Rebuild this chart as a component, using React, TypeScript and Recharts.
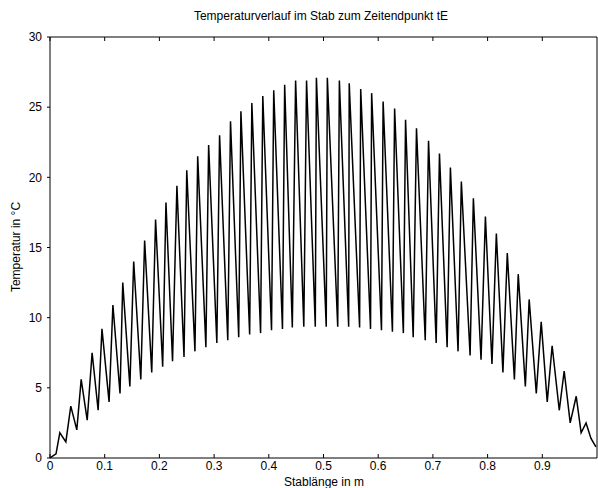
import { LineChart, Line, XAxis, YAxis } from 'recharts'

// Stablänge (m) of each sample
const stabX = [
  0, 0.011, 0.018, 0.029, 0.038, 0.049, 0.057, 0.068, 0.077, 0.088,
  0.095, 0.108, 0.115, 0.128, 0.133, 0.146, 0.153, 0.166, 0.173, 0.186,
  0.193, 0.206, 0.212, 0.224, 0.232, 0.245, 0.25, 0.265, 0.27, 0.285,
  0.29, 0.305, 0.31, 0.325, 0.33, 0.345, 0.349, 0.365, 0.369, 0.385,
  0.389, 0.405, 0.409, 0.425, 0.429, 0.443, 0.449, 0.464, 0.469, 0.485,
  0.487, 0.505, 0.507, 0.526, 0.529, 0.546, 0.547, 0.566, 0.568, 0.586,
  0.588, 0.606, 0.609, 0.626, 0.63, 0.646, 0.65, 0.664, 0.67, 0.686,
  0.692, 0.706, 0.712, 0.726, 0.732, 0.746, 0.752, 0.768, 0.774, 0.788,
  0.796, 0.808, 0.816, 0.828, 0.836, 0.849, 0.856, 0.869, 0.876, 0.889,
  0.898, 0.909, 0.918, 0.931, 0.94, 0.951, 0.962, 0.971, 0.98, 0.989,
  0.998,
]

// Temperatur (°C) at each sample
const temperatur = [
  0, 0.3, 1.8, 1.15, 3.7, 2.0, 5.6, 2.7, 7.5, 3.4,
  9.2, 4.0, 10.9, 4.6, 12.5, 5.1, 14.0, 5.6, 15.5, 6.1,
  17.0, 6.5, 18.2, 6.9, 19.4, 7.2, 20.5, 7.6, 21.5, 7.9,
  22.3, 8.2, 23.0, 8.4, 24.0, 8.6, 24.7, 8.8, 25.3, 8.9,
  25.8, 9.1, 26.2, 9.2, 26.6, 9.3, 26.9, 9.35, 26.9, 9.35,
  27.1, 9.35, 27.1, 9.35, 26.9, 9.35, 26.7, 9.3, 26.3, 9.2,
  26.0, 9.1, 25.4, 9.0, 24.9, 8.9, 24.1, 8.6, 23.5, 8.4,
  22.6, 8.2, 21.7, 7.9, 20.7, 7.6, 19.7, 7.3, 18.5, 7.0,
  17.2, 6.7, 16.0, 6.1, 14.6, 5.6, 13.1, 5.1, 11.3, 4.6,
  9.7, 4.0, 8.0, 3.4, 6.2, 2.5, 4.4, 1.8, 2.5, 1.4,
  0.8,
]

const xTicks = [0, 0.1, 0.2, 0.3, 0.4, 0.5, 0.6, 0.7, 0.8, 0.9]
const yTicks = [0, 5, 10, 15, 20, 25, 30]

const data = stabX.map((x, i) => ({ x, t: temperatur[i] }))

const FONT = '"Liberation Sans", Arial, sans-serif'

// bottom axis: inward tick mark + label below
function BottomTick({ x, y, payload }: any) {
  return (
    <g>
      <line x1={x} x2={x} y1={y} y2={y - 4} stroke="#000" />
      <text x={x} y={y + 12} textAnchor="middle" fontSize={12} fontFamily={FONT} fill="#000">
        {payload.value}
      </text>
    </g>
  )
}

function TopTick({ x, y }: any) {
  return <line x1={x} x2={x} y1={y} y2={y + 4} stroke="#000" />
}

function RightTick({ x, y }: any) {
  return <line x1={x} x2={x - 4} y1={y} y2={y} stroke="#000" />
}

export default function App() {
  return (
    <div style={{ position: 'absolute', left: 0, top: 0, width: 598, height: 488, background: '#fff' }}>
      <LineChart
        width={598}
        height={488}
        data={data}
        margin={{ top: 36, right: 0, bottom: 0, left: 0 }}
      >
        <XAxis
          dataKey="x"
          type="number"
          domain={[0, 1]}
          ticks={xTicks}
          height={30}
          tickSize={0}
          tickMargin={0}
          tick={<BottomTick />}
          axisLine={{ stroke: '#000' }}
          allowDataOverflow
        />
        <XAxis
          xAxisId="top"
          dataKey="x"
          type="number"
          orientation="top"
          domain={[0, 1]}
          ticks={xTicks}
          height={1}
          tickSize={0}
          tickMargin={0}
          tick={<TopTick />}
          axisLine={{ stroke: '#000' }}
        />
        <YAxis
          type="number"
          domain={[0, 30]}
          ticks={yTicks}
          width={50}
          tickSize={3}
          tickMargin={5}
          tick={{ fontSize: 12, fontFamily: FONT, fill: '#000' }}
          tickLine={{ stroke: '#000' }}
          axisLine={{ stroke: '#000' }}
        />
        <YAxis
          yAxisId="right"
          type="number"
          orientation="right"
          domain={[0, 30]}
          ticks={yTicks}
          width={1}
          tickSize={0}
          tickMargin={0}
          tick={<RightTick />}
          axisLine={{ stroke: '#000' }}
        />
        <Line
          dataKey="t"
          type="linear"
          stroke="#000"
          strokeWidth={1.5}
          dot={false}
          isAnimationActive={false}
        />
      </LineChart>
      <svg
        width={598}
        height={488}
        style={{ position: 'absolute', left: 0, top: 0, pointerEvents: 'none' }}
      >
        <text x={321} y={20} textAnchor="middle" fontSize={12} fontFamily={FONT} fill="#000">
          Temperaturverlauf im Stab zum Zeitendpunkt tE
        </text>
        <text x={324} y={486} textAnchor="middle" fontSize={12} fontFamily={FONT} fill="#000">
          Stablänge in m
        </text>
        <text
          x={20}
          y={247}
          textAnchor="middle"
          fontSize={12}
          fontFamily={FONT}
          fill="#000"
          transform="rotate(-90 20 247)"
        >
          Temperatur in °C
        </text>
      </svg>
    </div>
  )
}
